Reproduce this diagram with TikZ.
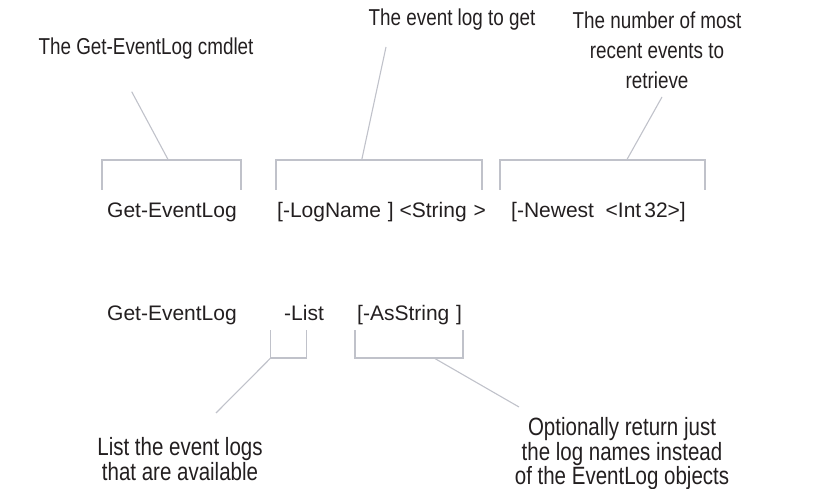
\documentclass[tikz,border=0pt]{standalone}
\usepackage{fontspec}
\setmainfont{Liberation Sans}
\newfontfamily\narrowfont[FakeStretch=0.82]{Liberation Sans}
\definecolor{leadgray}{RGB}{192,194,202}
\definecolor{txt}{RGB}{35,31,32}
\begin{document}
\begin{tikzpicture}[x=1pt,y=-1pt,
  codetext/.style={inner sep=0pt,anchor=base west,text=txt,font=\fontsize{21}{25}\selectfont},
  toplabel/.style={inner sep=0pt,align=center,text=txt,font=\narrowfont\fontsize{23}{30}\selectfont},
  botlabel/.style={inner sep=0pt,align=center,text=txt,font=\narrowfont\fontsize{25}{24.5}\selectfont},
  bracket/.style={draw=leadgray,line width=1.1pt},
  leader/.style={draw=leadgray,line width=1.1pt}]
\useasboundingbox (0,0) rectangle (822,489);
% labels
\node[toplabel] (l1) at (146,49) {The Get-EventLog cmdlet};
\node[toplabel] (l2) at (452,20) {The event log to get};
\node[toplabel] (l3) at (657,50) {The number of most\\recent events to\\retrieve};
\node[botlabel] (l4) at (180,459) {List the event logs\\that are available};
\node[botlabel] (l5) at (622,454) {Optionally return just\\the log names instead\\of the EventLog objects};
% code rows
\node[codetext] (c1) at (107,218) {Get-EventLog};
\node[codetext] (c2) at (277,218) {[-LogName\kern1pt~] <String\kern1pt~>};
\node[codetext] (c3) at (511,218) {[-Newest~~<Int\kern3pt 32>]};
\node[codetext] (d1) at (107,320) {Get-EventLog};
\node[codetext] (d2) at (284,320) {-List};
\node[codetext] (d3) at (357,320) {[-AsString\kern1pt~]};
% brackets (top row)
\coordinate (b1l) at (102,190); \coordinate (b1r) at (241,190);
\coordinate (b1t) at (168.3,160);
\draw[bracket] (b1l) |- (b1t) -| (b1r);
\coordinate (b2l) at (276,190); \coordinate (b2r) at (482,190);
\coordinate (b2t) at (361.7,160);
\draw[bracket] (b2l) |- (b2t) -| (b2r);
\coordinate (b3l) at (500,190); \coordinate (b3r) at (705,190);
\coordinate (b3t) at (626.7,160);
\draw[bracket] (b3l) |- (b3t) -| (b3r);
% brackets (bottom row)
\coordinate (e1l) at (270.7,330); \coordinate (e1r) at (306.7,330);
\coordinate (e1b) at (270.7,358);
\draw[bracket] (e1l) -- (e1b) -| (e1r);
\coordinate (e2l) at (355,330); \coordinate (e2r) at (463,330);
\coordinate (e2b) at (434,358);
\draw[bracket] (e2l) |- (e2b) -| (e2r);
% leader ends
\coordinate (t1) at (131.7,91.7);
\coordinate (t2) at (386,47);
\coordinate (t3) at (662,97);
\coordinate (t4) at (216,413);
\coordinate (t5) at (519,407);
\draw[leader] (b1t) -- (t1);
\draw[leader] (b2t) -- (t2);
\draw[leader] (b3t) -- (t3);
\draw[leader] (e1b) -- (t4);
\draw[leader] (e2b) -- (t5);
\end{tikzpicture}
\end{document}
